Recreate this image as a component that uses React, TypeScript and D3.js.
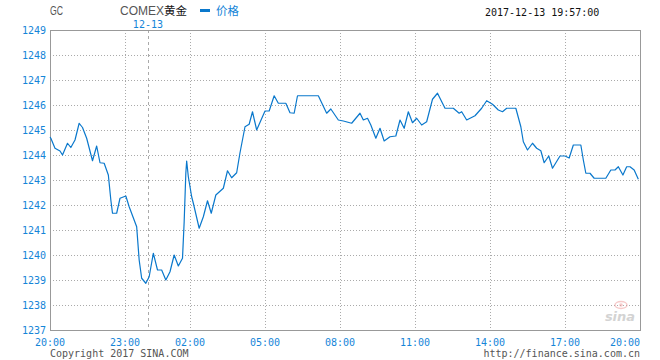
import React from "react";
import * as d3 from "d3";

// session minutes since 20:00 (chart time axis) and prices
const minutes = [0, 2, 12, 24, 30, 42, 50, 60, 70, 78, 88, 102, 112, 120, 130, 140, 146, 150, 160, 168, 182, 190, 208, 214, 220, 230, 238, 248, 258, 268, 278, 288, 298, 308, 318, 322, 326, 328, 332, 340, 344, 358, 368, 378, 387, 398, 416, 426, 436, 448, 456, 468, 478, 486, 496, 516, 526, 538, 548, 566, 576, 586, 594, 644, 664, 674, 692, 704, 724, 744, 752, 762, 770, 782, 792, 802, 816, 830, 840, 850, 860, 870, 880, 892, 904, 918, 930, 948, 968, 982, 988, 1000, 1020, 1036, 1048, 1062, 1076, 1086, 1096, 1118, 1130, 1136, 1146, 1158, 1168, 1178, 1186, 1197, 1206, 1224, 1236, 1246, 1256, 1274, 1280, 1286, 1296, 1306, 1334, 1346, 1356, 1364, 1375, 1384, 1392, 1402, 1412];
const prices = [1244.72, 1244.67, 1244.27, 1244.16, 1244.0, 1244.47, 1244.3, 1244.6, 1245.27, 1245.1, 1244.67, 1243.77, 1244.36, 1243.69, 1243.67, 1243.2, 1242.2, 1241.67, 1241.67, 1242.27, 1242.36, 1241.93, 1241.13, 1239.8, 1239.07, 1238.87, 1239.13, 1240.07, 1239.4, 1239.4, 1239.0, 1239.33, 1240.0, 1239.56, 1239.87, 1241.33, 1243.27, 1243.76, 1243.13, 1242.33, 1242.07, 1241.07, 1241.53, 1242.17, 1241.67, 1242.4, 1242.67, 1243.37, 1243.09, 1243.29, 1244.09, 1245.13, 1245.23, 1245.73, 1245.0, 1245.76, 1245.76, 1246.37, 1246.07, 1246.07, 1245.69, 1245.67, 1246.37, 1246.37, 1245.67, 1245.84, 1245.4, 1245.36, 1245.27, 1245.67, 1245.4, 1245.47, 1245.2, 1244.67, 1245.07, 1244.56, 1244.73, 1244.76, 1245.4, 1245.07, 1245.73, 1245.29, 1245.47, 1245.2, 1245.33, 1246.23, 1246.47, 1245.87, 1245.87, 1245.67, 1245.73, 1245.4, 1245.57, 1245.87, 1246.17, 1246.03, 1245.8, 1245.73, 1245.87, 1245.87, 1245.13, 1244.53, 1244.2, 1244.47, 1244.27, 1244.17, 1243.69, 1243.96, 1243.47, 1243.96, 1243.96, 1243.88, 1244.4, 1244.4, 1243.8, 1243.27, 1243.27, 1243.07, 1243.07, 1243.4, 1243.4, 1243.53, 1243.2, 1243.53, 1243.53, 1243.4, 1243.03];

const xTickLabels = ["20:00", "23:00", "02:00", "05:00", "08:00", "11:00", "14:00", "17:00", "20:00"];
const xTickMinutes = [0, 180, 336, 516, 696, 876, 1056, 1236, 1416];
const yTicks = [1237, 1238, 1239, 1240, 1241, 1242, 1243, 1244, 1245, 1246, 1247, 1248, 1249];
const dateDividerMinute = 235;
const dateDividerLabel = "12-13";
const symbol = "GC";
const title = "COMEX";
const titleCn = "黄金";
const legendLabel = "价格";
const timestamp = "2017-12-13 19:57:00";
const copyright = "Copyright 2017 SINA.COM";
const url = "http://finance.sina.com.cn";

const W = 660, H = 360;
const L = 50, R = 640, T = 30, B = 330;
const BLUE = "#1585d8";
const LINE = "#0a78cc";
const GRID = "#aaaaaa";
const MONO = "'DejaVu Sans Mono', 'Liberation Mono', monospace";
const NARROW = "'Liberation Sans Narrow', 'Liberation Sans', sans-serif";
const CJK = "'Noto Sans CJK SC', sans-serif";

export default function App() {
  const x = d3.scaleLinear().domain([0, 1416]).range([L, R]);
  const y = d3.scaleLinear().domain([1237, 1249]).range([B, T]);
  const data = minutes.map((m, i) => [m, prices[i]] as [number, number]);
  const line = d3.line<[number, number]>().x(d => x(d[0])).y(d => y(d[1]));
  const px = (v: number) => Math.round(v) + 0.5;

  return (
    <div style={{ position: "fixed", left: 0, top: 0 }}>
      <svg width={W} height={H} style={{ display: "block", background: "#fff" }}>
        {/* header */}
        <text x={50} y={15} fontFamily={NARROW} fontSize={12} fill="#555" textLength={13} lengthAdjust="spacingAndGlyphs">{symbol}</text>
        <text x={120} y={15} fontSize={11.5}>
          <tspan fontFamily={NARROW} fontSize={12} fill="#555">{title}</tspan>
          <tspan fontFamily={CJK} fill="#111">{titleCn}</tspan>
        </text>
        <rect x={200} y={9} width={10} height={3} fill={LINE} />
        <text x={216} y={15} fontFamily={CJK} fontSize={11.5} fill={BLUE}>{legendLabel}</text>
        <text x={485} y={16} fontFamily={MONO} fontSize={10} fill="#111">{timestamp}</text>
        <text x={x(dateDividerMinute)} y={27.5} textAnchor="middle" fontFamily={MONO} fontSize={10} fill={BLUE}>{dateDividerLabel}</text>

        {/* horizontal grid */}
        {yTicks.slice(1, -1).map(v => (
          <line key={"h" + v} x1={L} x2={R} y1={px(y(v))} y2={px(y(v))} stroke={GRID} strokeDasharray="1,2" shapeRendering="crispEdges" />
        ))}
        {/* vertical grid */}
        {xTickMinutes.slice(1, -1).map(m => (
          <line key={"v" + m} x1={px(x(m))} x2={px(x(m))} y1={T} y2={B} stroke={GRID} strokeDasharray="1,2" shapeRendering="crispEdges" />
        ))}
        <line x1={px(x(dateDividerMinute))} x2={px(x(dateDividerMinute))} y1={T} y2={B} stroke={GRID} strokeDasharray="3,3" shapeRendering="crispEdges" />

        {/* watermark */}
        <g opacity={0.55}>
          <ellipse cx={621} cy={305} rx={6} ry={3.5} fill="none" stroke="#f0a0a0" strokeWidth={1.5} />
          <circle cx={621} cy={305} r={1.8} fill="#f0a0a0" />
          <text x={620} y={321} textAnchor="middle" fontFamily="'DejaVu Sans', sans-serif" fontStyle="italic" fontWeight="bold" fontSize={13} fill="#b0b0b0">sina</text>
        </g>

        {/* frame */}
        <rect x={L + 0.5} y={T + 0.5} width={R - L} height={B - T} fill="none" stroke="#999" shapeRendering="crispEdges" />

        {/* price line */}
        <path d={line(data) || ""} fill="none" stroke={LINE} strokeWidth={1.2} strokeLinejoin="round" />

        {/* y labels */}
        {yTicks.map(v => (
          <text key={"yl" + v} x={46} y={y(v) + 4} textAnchor="end" fontFamily={MONO} fontSize={10} fill={BLUE}>{v}</text>
        ))}
        {/* x labels */}
        {xTickMinutes.map((m, i) => (
          <text key={"xl" + i} x={i === xTickMinutes.length - 1 ? R : x(m)} y={346} textAnchor={i === xTickMinutes.length - 1 ? "end" : "middle"} fontFamily={MONO} fontSize={10} fill={BLUE}>{xTickLabels[i]}</text>
        ))}

        {/* footer */}
        <text x={50} y={357} fontFamily={MONO} fontSize={10} fill="#555">{copyright}</text>
        <text x={R} y={357} textAnchor="end" fontFamily={MONO} fontSize={10} fill="#555">{url}</text>
      </svg>
    </div>
  );
}
